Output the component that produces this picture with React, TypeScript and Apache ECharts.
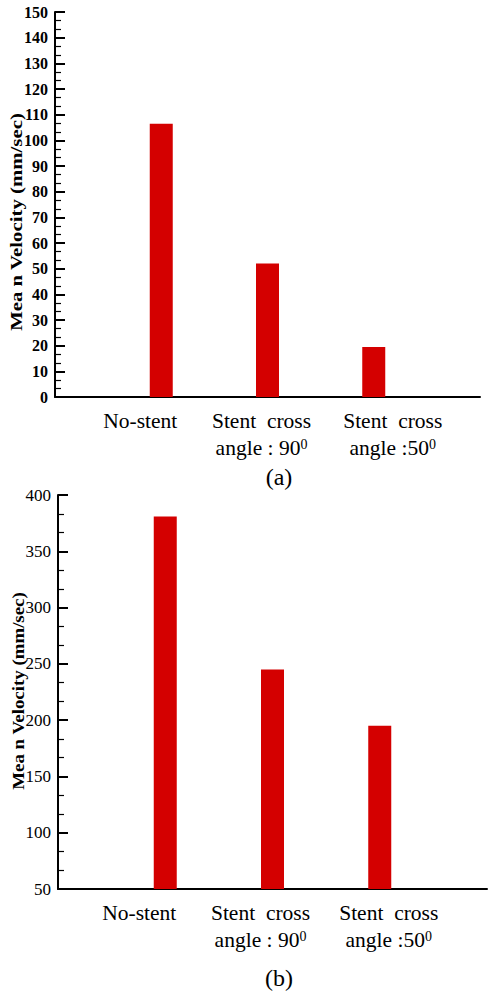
import React, { useEffect, useRef } from "react";
import * as echarts from "echarts";

// ---- data ----
const categories = ["", "No-stent", "Stent  cross\nangle : 90^0", "Stent  cross\nangle :50^0", ""];
const velocityA: (number | null)[] = [null, 106.5, 52, 19.5, null];
const velocityB: (number | null)[] = [null, 381, 245, 195, null];
const axisA = { min: 0, max: 150, interval: 10 };
const axisB = { min: 50, max: 400, interval: 50 };
const yTitle = "Mea n Velocity (mm/sec)";
const captions = ["(a)", "(b)"];
// horizontal shift of each category label relative to its bar (px)
const labelShiftA = [0, -21, -6, 19, 0];
const labelShiftB = [0, -26, -12, 9, 0];

const FONT = '"Liberation Serif", "Times New Roman", serif';
const RED = "#d40000";

function buildLabels(shifts: number[]) {
  const rich: Record<string, any> = {};
  const texts: string[] = categories.map((value, index) => {
    const s = shifts[index] || 0;
    const padL = s > 0 ? 2 * s : 0;
    const padR = s < 0 ? -2 * s : 0;
    if (!value) return "";
    return value
      .split("\n")
      .map((line) => {
        const [main, sup] = line.split("^");
        const tName = `t_${padL}_${sup ? 0 : padR}`;
        rich[tName] = {
          fontSize: 21.5,
          fontFamily: FONT,
          color: "#000",
          lineHeight: 27,
          padding: [0, sup ? 0 : padR, 0, padL],
        };
        let str = `{${tName}|${main}}`;
        if (sup) {
          const sName = `s_${padR}`;
          rich[sName] = {
            fontSize: 14,
            fontFamily: FONT,
            color: "#000",
            lineHeight: 14,
            verticalAlign: "top",
            padding: [3, padR, 0, 0],
          };
          str += `{${sName}|${sup}}`;
        }
        return str;
      })
      .join("\n");
  });
  return { rich, texts };
}

function yAxisOpt(
  gridIndex: number,
  range: { min: number; max: number; interval: number },
  bold: boolean,
  size: number
) {
  return {
    type: "value",
    gridIndex,
    min: range.min,
    max: range.max,
    interval: range.interval,
    axisLine: { show: true, lineStyle: { color: "#000", width: 2 } },
    axisTick: { show: true, inside: true, length: 10, lineStyle: { color: "#000", width: 2 } },
    minorTick: { show: true, splitNumber: 3, length: 6, lineStyle: { color: "#000", width: 1.2 } },
    splitLine: { show: false },
    minorSplitLine: { show: false },
    axisLabel: {
      color: "#000",
      fontFamily: FONT,
      fontSize: size,
      fontWeight: bold ? "bold" : "normal",
      margin: 7,
    },
  };
}

function xAxisOpt(gridIndex: number, shifts: number[]) {
  const { rich, texts } = buildLabels(shifts);
  return {
    type: "category",
    gridIndex,
    data: categories,
    boundaryGap: false,
    axisLine: { show: true, lineStyle: { color: "#000", width: 2 } },
    axisTick: { show: false },
    splitLine: { show: false },
    axisLabel: {
      interval: 0,
      margin: 10,
      formatter: (_v: string, i: number) => texts[i],
      rich,
    },
  };
}

export default function App() {
  const ref = useRef<HTMLDivElement>(null);
  useEffect(() => {
    if (!ref.current) return;
    const chart = echarts.init(ref.current, undefined, { renderer: "svg" });
    chart.setOption({
      animation: false,
      backgroundColor: "#fff",
      grid: [
        { left: 55, top: 12, width: 425, height: 385 },
        { left: 58, top: 495, width: 433, height: 394 },
      ],
      xAxis: [xAxisOpt(0, labelShiftA), xAxisOpt(1, labelShiftB)],
      yAxis: [yAxisOpt(0, axisA, true, 16), yAxisOpt(1, axisB, false, 17)],
      series: [
        {
          type: "bar",
          xAxisIndex: 0,
          yAxisIndex: 0,
          data: velocityA,
          barWidth: 23,
          itemStyle: { color: RED },
        },
        {
          type: "bar",
          xAxisIndex: 1,
          yAxisIndex: 1,
          data: velocityB,
          barWidth: 23,
          itemStyle: { color: RED },
        },
      ],
      graphic: [
        {
          type: "text",
          x: 16,
          y: 222,
          rotation: Math.PI / 2,
          scaleX: 1.3,
          style: {
            text: yTitle,
            font: `bold 16px ${FONT}`,
            fill: "#000",
            textAlign: "center",
            textVerticalAlign: "middle",
          },
        },
        {
          type: "text",
          x: 19,
          y: 691,
          rotation: Math.PI / 2,
          scaleX: 1.18,
          style: {
            text: yTitle,
            font: `bold 16px ${FONT}`,
            fill: "#000",
            textAlign: "center",
            textVerticalAlign: "middle",
          },
        },
        {
          type: "text",
          x: 279,
          y: 477,
          style: {
            text: captions[0],
            font: `24px ${FONT}`,
            fill: "#000",
            textAlign: "center",
            textVerticalAlign: "middle",
          },
        },
        {
          type: "text",
          x: 279,
          y: 978,
          style: {
            text: captions[1],
            font: `24px ${FONT}`,
            fill: "#000",
            textAlign: "center",
            textVerticalAlign: "middle",
          },
        },
      ],
    });
    return () => chart.dispose();
  }, []);
  return (
    <div
      ref={ref}
      style={{ position: "absolute", left: 0, top: 0, width: 490, height: 992, background: "#fff" }}
    />
  );
}
